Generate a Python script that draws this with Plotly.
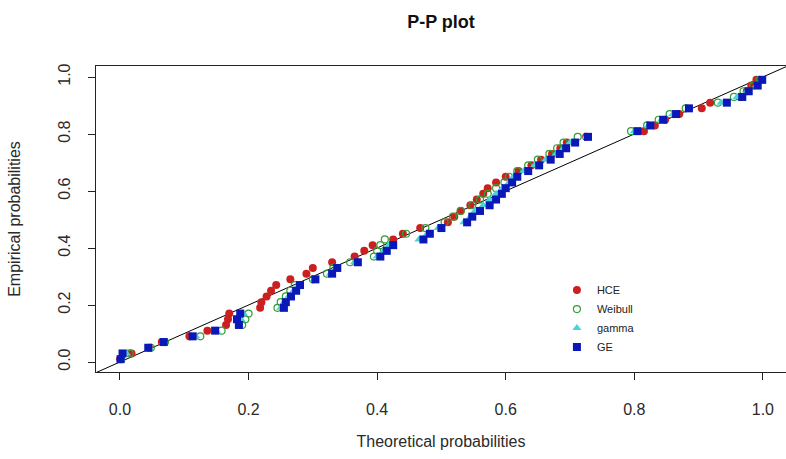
import plotly.graph_objects as go

# Empirical probabilities (shared by all fitted distributions)
empirical = [0.01, 0.03, 0.05, 0.07, 0.09, 0.11, 0.13, 0.15, 0.17, 0.19,
             0.21, 0.23, 0.25, 0.27, 0.29, 0.31, 0.33, 0.35, 0.37, 0.39,
             0.41, 0.43, 0.45, 0.47, 0.49, 0.51, 0.53, 0.55, 0.57, 0.59,
             0.61, 0.63, 0.65, 0.67, 0.69, 0.71, 0.73, 0.75, 0.77, 0.79,
             0.81, 0.83, 0.85, 0.87, 0.89, 0.91, 0.93, 0.95, 0.97, 0.99]

# Theoretical probabilities per distribution
hce = [0.000, 0.018, 0.045, 0.065, 0.108, 0.136, 0.165, 0.168, 0.170, 0.218,
       0.220, 0.228, 0.235, 0.243, 0.265, 0.290, 0.300, 0.330, 0.365, 0.380,
       0.393, 0.425, 0.440, 0.467, 0.510, 0.520, 0.530, 0.545, 0.555, 0.565,
       0.572, 0.585, 0.600, 0.620, 0.640, 0.655, 0.672, 0.685, 0.695, 0.725,
       0.815, 0.832, 0.848, 0.870, 0.905, 0.918, 0.965, 0.975, 0.982, 0.990]
weibull = [0.002, 0.015, 0.048, 0.070, 0.125, 0.158, 0.190, 0.195, 0.200, 0.245,
           0.250, 0.258, 0.265, 0.272, 0.300, 0.322, 0.332, 0.358, 0.395, 0.400,
           0.405, 0.412, 0.445, 0.475, 0.505, 0.518, 0.530, 0.548, 0.560, 0.572,
           0.585, 0.598, 0.605, 0.618, 0.635, 0.650, 0.668, 0.680, 0.690, 0.712,
           0.795, 0.820, 0.838, 0.855, 0.880, 0.930, 0.955, 0.970, 0.985, 0.995]
gamma = [0.001, 0.010, 0.046, 0.068, 0.118, 0.150, 0.185, 0.188, 0.192, 0.250,
         0.255, 0.262, 0.270, 0.278, 0.302, 0.327, 0.336, 0.365, 0.400, 0.410,
         0.418, 0.465, 0.478, 0.495, 0.535, 0.545, 0.552, 0.565, 0.575, 0.585,
         0.595, 0.605, 0.612, 0.628, 0.645, 0.662, 0.678, 0.690, 0.700, 0.725,
         0.800, 0.822, 0.842, 0.860, 0.885, 0.935, 0.960, 0.975, 0.990, 0.998]
ge = [0.001, 0.004, 0.044, 0.068, 0.113, 0.148, 0.185, 0.182, 0.187, 0.255,
      0.258, 0.266, 0.274, 0.280, 0.304, 0.330, 0.338, 0.370, 0.405, 0.415,
      0.425, 0.472, 0.482, 0.500, 0.540, 0.548, 0.560, 0.575, 0.585, 0.594,
      0.600, 0.610, 0.618, 0.635, 0.652, 0.670, 0.684, 0.694, 0.708, 0.728,
      0.805, 0.825, 0.845, 0.865, 0.885, 0.944, 0.968, 0.978, 0.992, 0.999]

ref_line = [-0.2, 1.2]
x_ticks = [0.0, 0.2, 0.4, 0.6, 0.8, 1.0]
x_tick_text = ["0.0", "0.2", "0.4", "0.6", "0.8", "1.0"]
y_ticks = [0.0, 0.2, 0.4, 0.6, 0.8, 1.0]
y_tick_text = ["0.0", "0.2", "0.4", "0.6", "0.8", "1.0"]

FONT = "Liberation Sans, Arial, sans-serif"

fig = go.Figure()
fig.add_trace(go.Scatter(x=ref_line, y=ref_line, mode="lines",
                         line=dict(color="black", width=1), showlegend=False,
                         hoverinfo="skip"))
fig.add_trace(go.Scatter(x=hce, y=empirical, mode="markers", name="HCE",
                         marker=dict(symbol="circle", size=8, color="#cc2020")))
fig.add_trace(go.Scatter(x=weibull, y=empirical, mode="markers", name="Weibull",
                         marker=dict(symbol="circle-open", size=7, color="#30a030",
                                     line=dict(width=1.2, color="#30a030"))))
fig.add_trace(go.Scatter(x=gamma, y=empirical, mode="markers", name="gamma",
                         marker=dict(symbol="triangle-up", size=8, color="#48d4d8")))
fig.add_trace(go.Scatter(x=ge, y=empirical, mode="markers", name="GE",
                         marker=dict(symbol="square", size=8, color="#0a18b8")))

fig.update_layout(
    width=786, height=459,
    margin=dict(l=96, r=0, t=66, b=87, autoexpand=False),
    paper_bgcolor="white", plot_bgcolor="white",
    font=dict(family=FONT, color="#2a2a2a", size=16),
    title=dict(text="<b>P-P plot</b>", x=0.5, xref="paper", xanchor="center",
               y=1 - 22 / 459, yref="container", yanchor="middle",
               font=dict(family=FONT, size=18, color="#111111")),
    legend=dict(x=0.668, y=0.315, xanchor="left", yanchor="top",
                bgcolor="rgba(0,0,0,0)", borderwidth=0,
                font=dict(family=FONT, size=11, color="#222222"),
                tracegroupgap=0),
    showlegend=True,
)
fig.update_xaxes(range=[-0.0373, 1.036], tickvals=x_ticks, ticktext=x_tick_text,
                 showgrid=False, zeroline=False, showline=True, mirror=True,
                 linecolor="#222222", linewidth=1, ticks="outside", ticklen=7,
                 tickcolor="#222222", tickfont=dict(size=16), automargin=False,
                 ticklabelstandoff=16,
                 title=dict(text="Theoretical probabilities", standoff=18,
                            font=dict(size=16)))
fig.update_yaxes(range=[-0.0351, 1.0386], tickvals=y_ticks, ticktext=y_tick_text,
                 showgrid=False, zeroline=False, showline=True, mirror=False,
                 linecolor="#222222", linewidth=1, ticks="outside", ticklen=7,
                 tickcolor="#222222", tickfont=dict(size=16), tickangle=-90,
                 ticklabelstandoff=12, automargin=False,
                 title=dict(text="Empirical probabilities", standoff=30,
                            font=dict(size=16)))

fig.write_html("out.html", config={"displayModeBar": False},
               post_script="document.body.style.margin='0';document.body.style.padding='0';")
